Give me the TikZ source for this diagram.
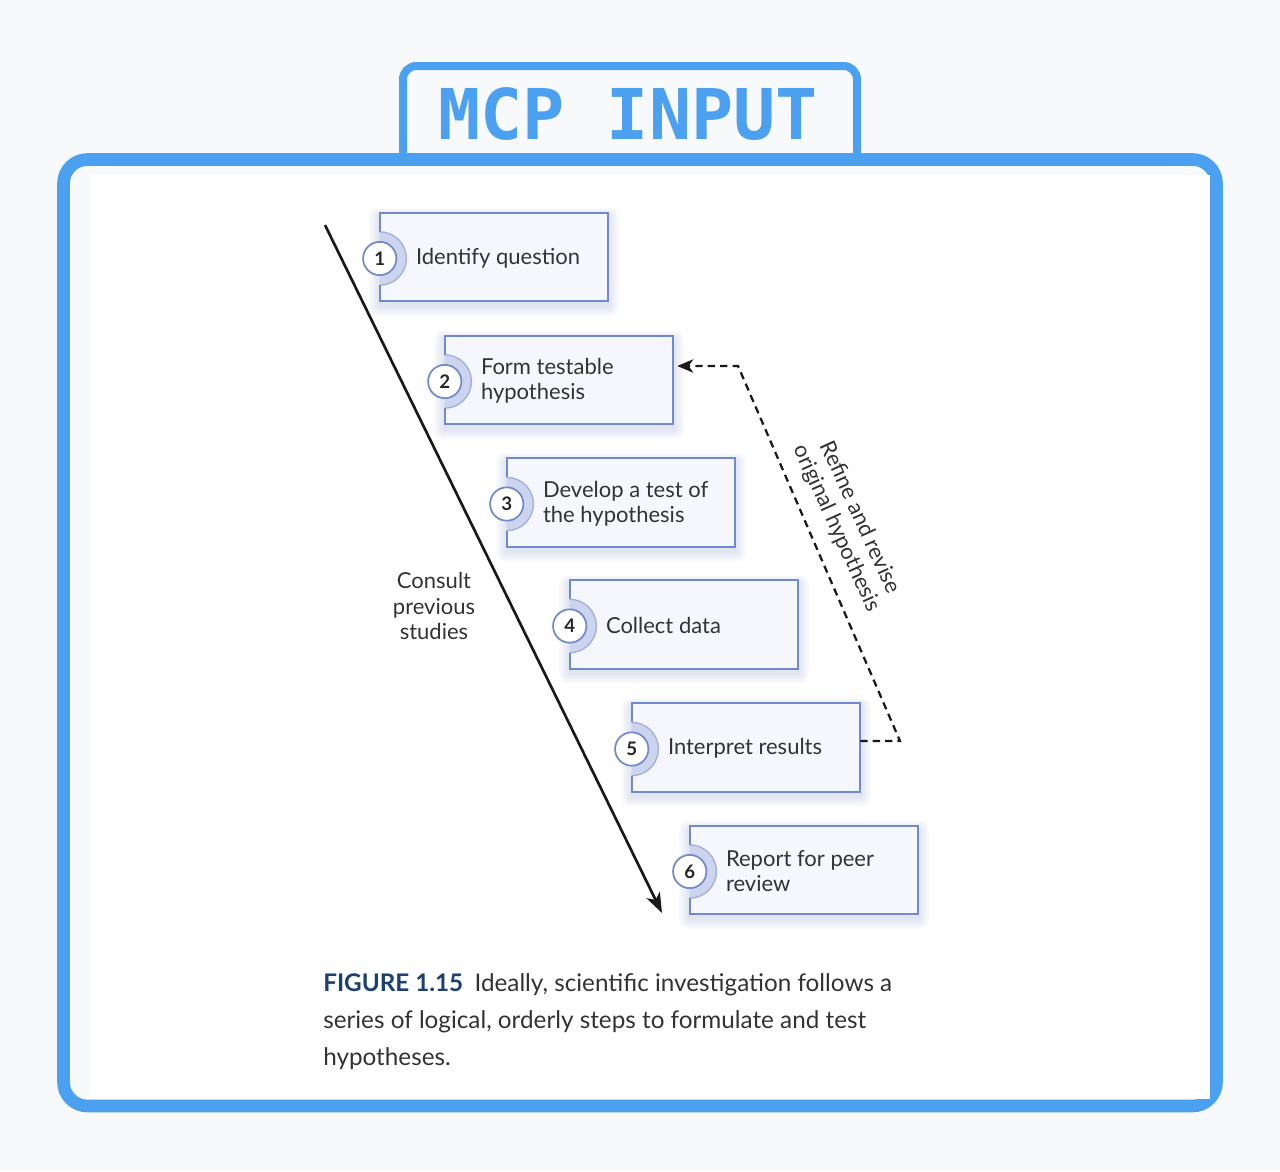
\documentclass[tikz,border=0pt]{standalone}
\usepackage{fontspec}
\setmainfont{Lato}
\newfontfamily\titlefont{DejaVu Sans Mono}
\usetikzlibrary{arrows.meta,calc}
\definecolor{bgc}{HTML}{F8F9FB}
\definecolor{frameblue}{HTML}{4BA0EF}
\definecolor{boxline}{HTML}{7189CD}
\definecolor{boxfill}{HTML}{F5F7FC}
\definecolor{ringfill}{HTML}{CDD5EE}
\definecolor{ringline}{HTML}{9FAFE0}
\definecolor{shadowc}{HTML}{8496D6}
\definecolor{txt}{HTML}{333333}
\definecolor{capblue}{HTML}{1C3F74}
\begin{document}
\begin{tikzpicture}[x=0.75pt,y=-0.75pt,
  stepbox/.style={rectangle, minimum width=171pt, minimum height=66pt, inner sep=0pt, fill=boxfill},
  glow/.style={fill=shadowc, fill opacity=0.035},
  boxborder/.style={draw=boxline, line width=1.5pt},
  numcirc/.style={circle, minimum size=25pt, inner sep=0pt, fill=white, draw=boxline, line width=1.3pt,
    font=\fontsize{14}{16}\selectfont\bfseries, text=black!85},
  steptext/.style={anchor=west, align=left, text=txt, font=\fontsize{16.5}{18.9}\selectfont, inner sep=0pt},
  mainarrow/.style={line width=2pt, black!90, -{Stealth[length=15pt,width=11pt,inset=4pt]}},
  dasharrow/.style={line width=1.7pt, black!90, dash pattern=on 5.5pt off 3.8pt,
    -{Stealth[length=12pt,width=10pt,inset=3.5pt]}},
  plaintext/.style={align=center, text=txt, font=\fontsize{16.5}{19.1}\selectfont, inner sep=0pt}
]
\useasboundingbox (0,0) rectangle (1280,1171);
\fill[bgc] (0,0) rectangle (1280,1171);
% tab
\draw[frameblue, line width=6pt, fill=bgc, rounded corners=10pt] (403,160) -- (403,66) -- (857,66) -- (857,160);
% frame
\draw[frameblue, line width=9.5pt, fill=bgc, rounded corners=18pt] (63.5,159.5) rectangle (1216.5,1106);
\fill[white] (90,175) rectangle (1210,1099);
\node[font=\titlefont\fontsize{52.5}{60}\selectfont\bfseries, text=frameblue, inner sep=0pt] (title) at (628,114) {MCP INPUT};

% steps
\foreach \i/\x/\y/\t in {1/380/257/{Identify question},
                         2/445/380/{Form testable\\hypothesis},
                         3/507/502.5/{Develop a test of\\the hypothesis},
                         4/570/624.5/{Collect data},
                         5/632/747.5/{Interpret results},
                         6/690/870/{Report for peer\\review}}{
  \foreach \k in {1,...,7}{
    \fill[glow, rounded corners=\k pt] (\x-\k*1.6,\y-44-\k*1.2+3) rectangle (\x+228+\k*1.6,\y+44+\k*1.6+4);
  }
  \node[stepbox] (b\i) at (\x+114,\y) {};
  \begin{scope}
    \clip (b\i.north west) rectangle (b\i.south east);
    \fill[ringfill] ($(b\i.west)+(0,1.5)$) circle[radius=20pt];
    \draw[ringline, line width=1pt] ($(b\i.west)+(0,1.5)$) circle[radius=20pt];
  \end{scope}
  \draw[boxborder] ($(b\i.west)+(0,-25.2)$) -- (b\i.north west) -- (b\i.north east)
     -- (b\i.south east) -- (b\i.south west) -- ($(b\i.west)+(0,28.2)$);
  \node[numcirc] (n\i) at ($(b\i.west)+(0,1.5)$) {\i};
  \node[steptext] (t\i) at ($(b\i.west)+(36,1)$) {\t};
}

% main arrow
\coordinate (ms) at (325,225);
\coordinate (me) at (662,913);
\draw[mainarrow] (ms) -- (me);
\node[plaintext] (consult) at (434,606) {Consult\\previous\\studies};

% feedback loop
\coordinate (d1) at (900,741);
\coordinate (d2) at (738,366);
\draw[dasharrow] (b5.east |- d1) -- (d1) -- (d2) -- ([xshift=3pt]b2.east |- d2);
\node[plaintext, rotate=-65.5] (refine) at (848,523) {Refine and revise\\original hypothesis};

% caption
\node[anchor=north west, align=left, text=txt, inner sep=0pt,
      font=\fontsize{18.2}{27.75}\selectfont] (cap) at (323,973)
  {\textcolor{capblue}{\bfseries FIGURE 1.15}\hspace{8.5pt}Ideally, scientific investigation follows a\\
   series of logical, orderly steps to formulate and test\\
   hypotheses.};
\end{tikzpicture}
\end{document}
